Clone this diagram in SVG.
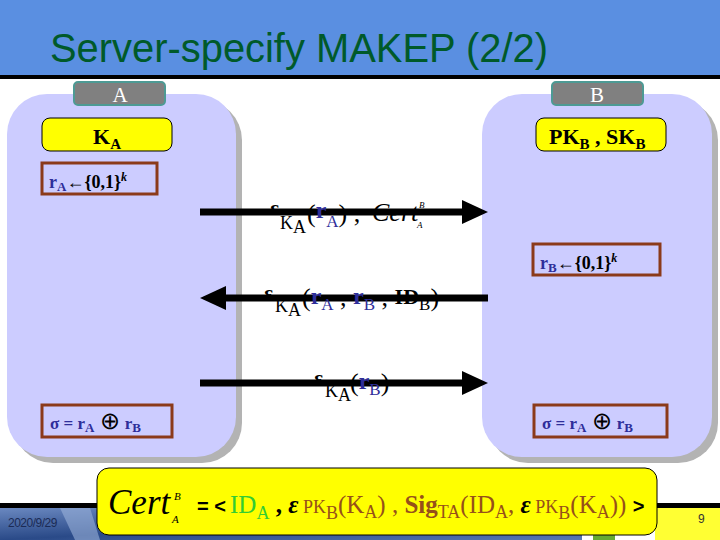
<svg xmlns="http://www.w3.org/2000/svg" width="720" height="540" viewBox="0 0 720 540">
<style>
.ser{font-family:"Liberation Serif","Times New Roman",serif}
.b{font-weight:bold}
.blue{fill:#2e2e9a}
.brown{fill:#96501a}
.green{fill:#33cc33}
.panel{fill:#ccccff}
.shadow{fill:#b3b3b3}
.lbl{fill:#808080;stroke:#4d9a94;stroke-width:2}
.yel{fill:#ffff00;stroke:#000;stroke-width:1}
.brbox{fill:none;stroke:#8b3a1a;stroke-width:3}
.arrow{stroke:#000;stroke-width:7;fill:none}
</style>
<defs>
<marker id="head" markerUnits="userSpaceOnUse" markerWidth="26" markerHeight="24" refX="6" refY="12" orient="auto">
<path d="M0,0 L26,12 L0,24 z" fill="#000"/>
</marker>
<linearGradient id="photo" x1="0" y1="0" x2="1" y2="1">
<stop offset="0" stop-color="#6a88c0"/>
<stop offset="0.5" stop-color="#2a4a88"/>
<stop offset="1" stop-color="#5878b4"/>
</linearGradient>
</defs>
<rect width="720" height="540" fill="#fff"/>
<!-- header -->
<rect x="0" y="0" width="720" height="75" fill="#5a8fe1"/>
<rect x="0" y="75" width="720" height="4" fill="#000"/>
<text x="50" y="62" font-family="Liberation Sans, Arial, sans-serif" font-size="40" fill="#005a2a" textLength="498" lengthAdjust="spacingAndGlyphs">Server-specify MAKEP (2/2)</text>

<!-- footer -->
<rect x="0" y="503" width="100" height="5" fill="#000"/>
<rect x="0" y="508" width="582" height="32" fill="url(#photo)"/>
<path d="M60,508 L90,508 L100,540 L75,540 z" fill="#9ab0d8" opacity="0.6"/>
<text x="8" y="527" font-family="Liberation Sans, Arial, sans-serif" font-size="12" fill="#1b2b55" letter-spacing="-0.5">2020/9/29</text>
<rect x="582" y="508" width="11" height="32" fill="#fff"/>
<rect x="593" y="508" width="22" height="32" fill="#66aa33"/>
<rect x="655" y="503" width="65" height="5" fill="#000"/>
<rect x="655" y="508" width="65" height="32" fill="#ffff33"/>
<text x="698" y="523" font-family="Liberation Sans, Arial, sans-serif" font-size="12" fill="#333">9</text>

<!-- Node A -->
<g id="nodeA">
<rect class="shadow" x="13" y="100" width="229" height="363" rx="40"/>
<rect class="panel" x="7" y="94" width="229" height="363" rx="40"/>
<rect class="lbl" x="74" y="82" width="91" height="23" rx="4"/>
<text x="120" y="102" class="ser" font-size="21" fill="#fff" text-anchor="middle">A</text>
<rect class="yel" x="42" y="118" width="130" height="33" rx="8"/>
<text x="93" y="144" class="ser b" font-size="22">K<tspan font-size="15" dy="5">A</tspan></text>
<rect class="brbox" x="42" y="163" width="115" height="31"/>
<text x="49" y="188" class="ser b" font-size="18"><tspan class="blue">r</tspan><tspan class="blue" font-size="13" dy="3">A</tspan><tspan dy="-3" font-weight="normal">←</tspan>{0,1}<tspan font-size="12" font-style="italic" dy="-7">k</tspan></text>
<rect class="brbox" x="42" y="405" width="130" height="32"/>
<text x="50" y="429" class="ser b blue" font-size="17">σ = r<tspan font-size="13" dy="3">A</tspan><tspan dy="-3" fill="#000" font-weight="normal" font-size="24"> ⊕</tspan> r<tspan font-size="13" dy="3">B</tspan></text>
</g>

<!-- Node B -->
<g id="nodeB">
<rect class="shadow" x="488" y="100" width="230" height="363" rx="40"/>
<rect class="panel" x="482" y="94" width="230" height="363" rx="40"/>
<rect class="lbl" x="552" y="82" width="91" height="23" rx="4"/>
<text x="597" y="102" class="ser" font-size="21" fill="#fff" text-anchor="middle">B</text>
<rect class="yel" x="536" y="118" width="130" height="33" rx="8"/>
<text x="549" y="144" class="ser b" font-size="22">PK<tspan font-size="15" dy="5">B</tspan><tspan dy="-5"> , SK</tspan><tspan font-size="15" dy="5">B</tspan></text>
<rect class="brbox" x="533" y="244" width="127" height="31"/>
<text x="540" y="269" class="ser b" font-size="18"><tspan class="blue">r</tspan><tspan class="blue" font-size="13" dy="3">B</tspan><tspan dy="-3" font-weight="normal">←</tspan>{0,1}<tspan font-size="12" font-style="italic" dy="-7">k</tspan></text>
<rect class="brbox" x="534" y="405" width="133" height="32"/>
<text x="542" y="429" class="ser b blue" font-size="17">σ = r<tspan font-size="13" dy="3">A</tspan><tspan dy="-3" fill="#000" font-weight="normal" font-size="24"> ⊕</tspan> r<tspan font-size="13" dy="3">B</tspan></text>
</g>

<!-- connectors -->
<g id="connectors">
<line class="arrow" x1="200" y1="212" x2="468" y2="212" marker-end="url(#head)"/>
<line class="arrow" x1="488" y1="298" x2="220" y2="298" marker-end="url(#head)"/>
<line class="arrow" x1="200" y1="383" x2="468" y2="383" marker-end="url(#head)"/>
</g>

<!-- connector labels -->
<g id="labels">
<text x="270" y="215" class="ser b" font-size="21">ε</text>
<text x="280" y="229" class="ser" font-size="18">K<tspan font-size="18" dy="4">A</tspan></text>
<text x="307" y="222" class="ser" font-size="26">(<tspan class="blue b" font-size="24" dy="-4">r</tspan><tspan class="blue" font-size="17" dy="9">A</tspan><tspan dy="-5">) ,</tspan></text>
<text x="372" y="221" class="ser" font-size="26" font-style="italic">Cert</text>
<text x="419" y="208" class="ser" font-size="9" font-style="italic">B</text>
<text x="417" y="228" class="ser" font-size="9" font-style="italic">A</text>

<text x="264" y="300" class="ser b" font-size="21">ε</text>
<text x="275" y="312" class="ser" font-size="18">K<tspan font-size="18" dy="4">A</tspan></text>
<text x="302" y="306" class="ser" font-size="26">(<tspan class="blue b" font-size="24" dy="-2">r</tspan><tspan class="blue" font-size="17" dy="6">A</tspan><tspan dy="-4"> , </tspan><tspan class="blue b" font-size="24" dy="-2">r</tspan><tspan class="blue" font-size="17" dy="6">B</tspan><tspan dy="-4"> , </tspan><tspan class="b" font-size="22" dy="-2">ID</tspan><tspan font-size="17" dy="6">B</tspan><tspan dy="-4">)</tspan></text>

<text x="314" y="385" class="ser b" font-size="21">ε</text>
<text x="325" y="397" class="ser" font-size="18">K<tspan font-size="18" dy="4">A</tspan></text>
<text x="350" y="391" class="ser" font-size="26">(<tspan class="blue b" font-size="24" dy="-2">r</tspan><tspan class="blue" font-size="17" dy="6">B</tspan><tspan dy="-4">)</tspan></text>
</g>

<!-- certificate definition -->
<g id="certBox">
<rect x="97" y="468" width="560" height="67" rx="12" fill="#ffff00" stroke="#000" stroke-width="1"/>
<text x="108" y="514" class="ser" font-size="35" font-style="italic">Cert</text>
<text x="174" y="500" class="ser" font-size="11" font-style="italic">B</text>
<text x="172" y="523" class="ser" font-size="11" font-style="italic">A</text>
<text x="197" y="513" font-family="Liberation Sans, Arial, sans-serif" font-weight="bold" font-size="20">= &lt;</text>
<text x="230" y="513" class="ser" font-size="25"><tspan class="green">ID</tspan><tspan class="green" font-size="18" dy="6">A</tspan><tspan dy="-6" class="b"> ,  </tspan><tspan class="b" font-style="italic">ε</tspan><tspan class="brown" font-size="18"> PK</tspan><tspan class="brown" font-size="18" dy="6">B</tspan><tspan class="brown" dy="-6">(K</tspan><tspan class="brown" font-size="18" dy="5">A</tspan><tspan class="brown" dy="-5">) , </tspan><tspan class="brown b">Sig</tspan><tspan class="brown" font-size="18" dy="5">TA</tspan><tspan class="brown" dy="-5">(ID</tspan><tspan class="brown" font-size="18" dy="5">A</tspan><tspan class="brown" dy="-5">, </tspan><tspan class="b" font-style="italic">ε</tspan><tspan class="brown" font-size="18"> PK</tspan><tspan class="brown" font-size="18" dy="6">B</tspan><tspan class="brown" dy="-6">(K</tspan><tspan class="brown" font-size="18" dy="5">A</tspan><tspan class="brown" dy="-5">)) </tspan><tspan font-family="Liberation Sans, Arial, sans-serif" font-weight="bold" font-size="20">&gt;</tspan></text>
</g>
</svg>
